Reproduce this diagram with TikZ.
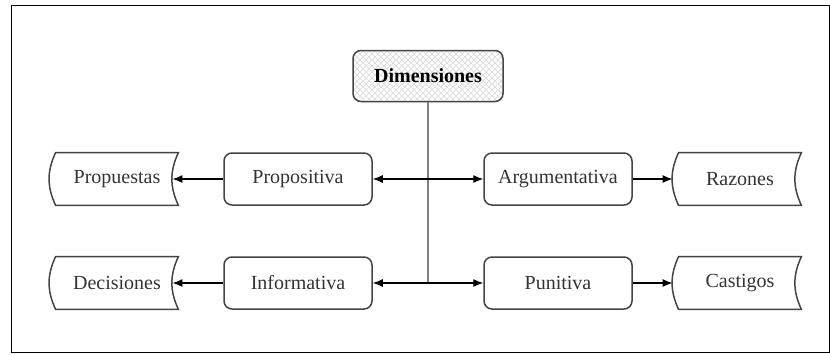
\documentclass[tikz,border=0pt]{standalone}
\usepackage{fontspec}
\setmainfont{Liberation Serif}
\usepackage{tikz}
\usetikzlibrary{arrows.meta, patterns, positioning, calc}

\definecolor{boxgray}{HTML}{444444}
\definecolor{textgray}{HTML}{333333}

\tikzset{
    dimbox/.style={draw=boxgray, line width=0.75pt, rounded corners=4pt,
        minimum width=75pt, minimum height=25.5pt, font=\fontsize{10}{12}\selectfont\bfseries,
        preaction={pattern=north east lines, pattern color=gray!25},
        pattern=north west lines, pattern color=gray!25},
    kindbox/.style={draw=boxgray, line width=0.75pt, rounded corners=4pt, fill=white,
        minimum width=74pt, minimum height=26pt, text=textgray, font=\fontsize{10}{12}\selectfont},
    databox/.style={minimum width=61pt, minimum height=26pt, text=textgray,
        font=\fontsize{10}{12}\selectfont},
    dataline/.style={draw=boxgray, line width=0.75pt},
    link/.style={-{Latex[length=5pt, width=4pt]}, line width=0.6pt, black},
    stem/.style={line width=1pt, gray}
}

\begin{document}
\begin{tikzpicture}[x=0.5pt, y=-0.5pt]
    \useasboundingbox (0,0) rectangle (830,354);
    % Frame
    \draw[line width=0.5pt] (11,5) rectangle (829,352);

    % Top node
    \node[dimbox] (dim) at (428,76) {Dimensiones};

    % The four dimensions
    \node[kindbox] (propositiva) at (298,179) {Propositiva};
    \node[kindbox] (argumentativa) at (558,179) {Argumentativa};
    \node[kindbox] (informativa) at (298,283) {Informativa};
    \node[kindbox] (punitiva) at (558,283) {Punitiva};

    % Their outputs
    \node[databox] (propuestas) at (117,179) {Propuestas};
    \node[databox] (decisiones) at (117,283) {Decisiones};
    \node[databox] (razones) at (740,179) {Razones};
    \node[databox] (castigos) at (740,283) {Castigos};
    \foreach \n in {propuestas, decisiones, razones, castigos} {
        \draw[dataline] (\n.north west) to[bend right=25] (\n.south west)
            -- (\n.south east) to[bend left=25] (\n.north east) -- cycle;
    }

    % Connectors
    \coordinate (upper) at (dim.south |- propositiva.east);
    \coordinate (lower) at (dim.south |- informativa.east);
    \draw[stem] (dim.south) -- (lower);
    \draw[link] (upper) -- (propositiva.east);
    \draw[link] (upper) -- (argumentativa.west);
    \draw[link] (lower) -- (informativa.east);
    \draw[link] (lower) -- (punitiva.west);
    \draw[link] (propositiva.west) -- ([xshift=-3pt]propuestas.east);
    \draw[link] (informativa.west) -- ([xshift=-3pt]decisiones.east);
    \draw[link] (argumentativa.east) -- ([xshift=-3pt]razones.west);
    \draw[link] (punitiva.east) -- ([xshift=-3pt]castigos.west);
\end{tikzpicture}
\end{document}
